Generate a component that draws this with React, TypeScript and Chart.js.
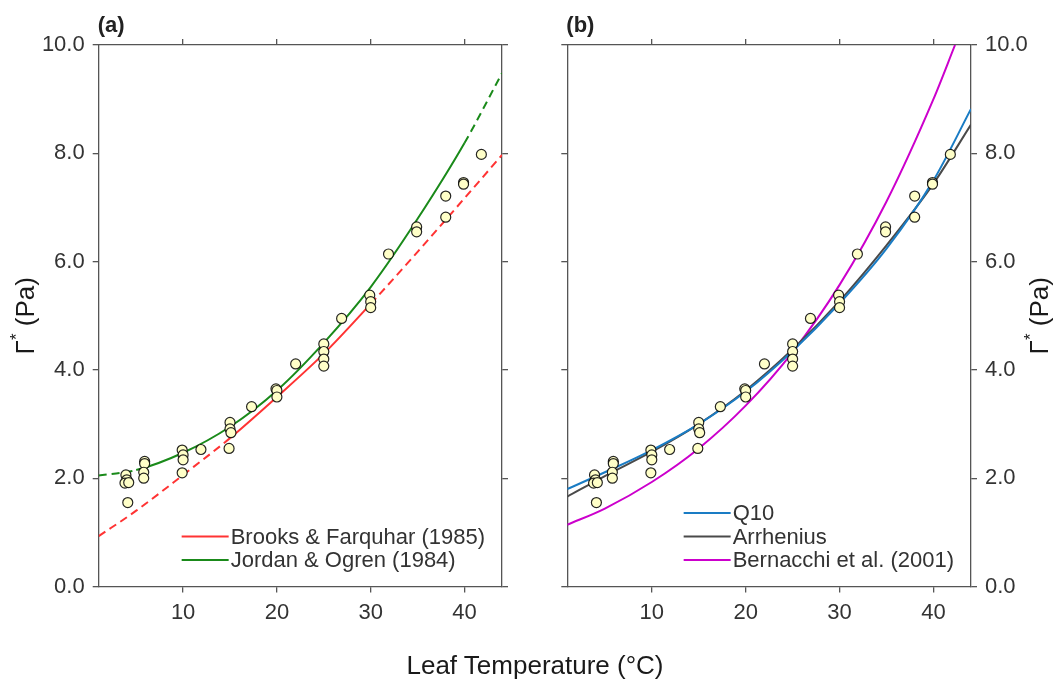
import React, { useEffect, useRef } from 'react';
import { Chart, registerables } from 'chart.js';

Chart.register(...registerables);

const FONT = "'Liberation Sans', Arial, Helvetica, sans-serif";
const AXIS = '#555555';

// ---- Observations (leaf temperature °C, Γ* Pa) ----
const obsTemp = [3.9, 4.0, 3.8, 4.2, 4.1, 5.9, 5.9, 5.8, 5.8, 9.9, 10.0, 10.0, 9.9, 11.9, 15.0, 15.0, 15.1, 14.9, 17.3, 19.9, 20.0, 20.0, 22.0, 25.0, 25.0, 25.0, 25.0, 26.9, 29.9, 30.0, 30.0, 31.9, 34.9, 34.9, 38.0, 38.0, 39.9, 39.9, 41.8];
const obsGamma = [2.06, 1.97, 1.91, 1.92, 1.55, 2.31, 2.27, 2.11, 2.00, 2.52, 2.43, 2.34, 2.10, 2.53, 3.03, 2.91, 2.84, 2.55, 3.32, 3.65, 3.62, 3.50, 4.11, 4.48, 4.34, 4.20, 4.07, 4.95, 5.38, 5.26, 5.15, 6.14, 6.64, 6.55, 7.21, 6.82, 7.46, 7.43, 7.98];

// ---- Model curves ----
const curveTemp = [1, 5, 10, 15, 20, 25, 30, 35, 40, 44];
const brooksFarquhar = [0.93, 1.40, 2.06, 2.74, 3.50, 4.30, 5.22, 6.18, 7.17, 7.97];
const jordanOgren = [2.05, 2.15, 2.47, 2.95, 3.62, 4.50, 5.53, 6.79, 8.19, 9.48];
const q10Fit = [1.80, 2.11, 2.52, 3.00, 3.60, 4.35, 5.23, 6.24, 7.50, 8.82];
const arrheniusFit = [1.66, 2.04, 2.49, 3.00, 3.62, 4.38, 5.27, 6.30, 7.44, 8.53];
const bernacchiTemp = [1, 5, 10, 15, 20, 25, 30, 35, 40, 42.3];
const bernacchiFit = [1.14, 1.44, 1.93, 2.55, 3.34, 4.33, 5.57, 7.11, 9.00, 10.0];

const brooksSolidRange = [15, 30];
const jordanSolidRange = [5, 40];

const xMin = 1;
const xMax = 44;
const xTicks = [10, 20, 30, 40];
const yTicks = [0, 2, 4, 6, 8, 10];

const xTitle = 'Leaf Temperature (°C)';

type Curve = { label: string; temps: number[]; values: number[]; color: string; solid?: number[] };

const panelA: Curve[] = [
  { label: 'Brooks & Farquhar (1985)', temps: curveTemp, values: brooksFarquhar, color: '#ff3333', solid: brooksSolidRange },
  { label: 'Jordan & Ogren (1984)', temps: curveTemp, values: jordanOgren, color: '#1a8a1a', solid: jordanSolidRange },
];
const panelB: Curve[] = [
  { label: 'Q10', temps: curveTemp, values: q10Fit, color: '#1a7cc4' },
  { label: 'Arrhenius', temps: curveTemp, values: arrheniusFit, color: '#4a4a4a' },
  { label: 'Bernacchi et al. (2001)', temps: bernacchiTemp, values: bernacchiFit, color: '#cc00cc' },
];

function xAxis(position: 'top' | 'bottom', showLabels: boolean, size: number) {
  return {
    type: 'linear',
    position,
    min: xMin,
    max: xMax,
    afterBuildTicks: (s: any) => {
      s.ticks = xTicks.map((v) => ({ value: v }));
    },
    afterFit: (s: any) => {
      s.height = size;
    },
    ticks: { display: showLabels, font: { family: FONT, size: 22 }, color: '#333', padding: 7, maxRotation: 0, autoSkip: false },
    grid: { drawOnChartArea: false, drawTicks: true, tickLength: 6, color: AXIS, lineWidth: 1.3 },
    border: { display: true, color: AXIS, width: 1.3 },
  };
}

function yAxis(position: 'left' | 'right', showLabels: boolean, size: number) {
  return {
    type: 'linear',
    position,
    min: 0,
    max: 10,
    afterBuildTicks: (s: any) => {
      s.ticks = yTicks.map((v) => ({ value: v }));
    },
    afterFit: (s: any) => {
      s.width = size;
    },
    ticks: {
      display: showLabels,
      font: { family: FONT, size: 22 },
      color: '#333',
      padding: 8,
      callback: (v: any) => Number(v).toFixed(1),
    },
    grid: { drawOnChartArea: false, drawTicks: true, tickLength: 6, color: AXIS, lineWidth: 1.3 },
    border: { display: true, color: AXIS, width: 1.3 },
  };
}

function makeDecor(panelLabel: string, yTitleX: number) {
  return {
    id: 'decor',
    afterDraw(chart: any) {
      const { ctx, chartArea: ca } = chart;
      ctx.save();
      // panel label
      ctx.font = `bold 22px ${FONT}`;
      ctx.fillStyle = '#222';
      ctx.textAlign = 'left';
      ctx.textBaseline = 'alphabetic';
      ctx.fillText(panelLabel, ca.left - 1, 32);

      // legend, lower right inside the plot
      const items = chart.data.datasets.filter((d: any) => d.showLine !== false);
      ctx.font = `22px ${FONT}`;
      const maxW = Math.max(...items.map((d: any) => ctx.measureText(d.label).width));
      const textLeft = ca.right - 17 - maxW;
      const rowH = 23.5;
      const lastY = ca.bottom - 26.5;
      items.forEach((d: any, i: number) => {
        const y = lastY - (items.length - 1 - i) * rowH;
        ctx.strokeStyle = d.borderColor;
        ctx.lineWidth = 2;
        ctx.setLineDash([]);
        ctx.beginPath();
        ctx.moveTo(textLeft - 49, y);
        ctx.lineTo(textLeft - 2, y);
        ctx.stroke();
        ctx.fillStyle = '#333';
        ctx.textBaseline = 'middle';
        ctx.fillText(d.label, textLeft, y + 1);
      });

      // y title Γ* (Pa), rotated
      ctx.translate(yTitleX, (ca.top + ca.bottom) / 2);
      ctx.rotate(-Math.PI / 2);
      const big = `26px ${FONT}`;
      const small = `17px ${FONT}`;
      ctx.font = big;
      const wG = ctx.measureText('Γ').width;
      const wRest = ctx.measureText(' (Pa)').width;
      ctx.font = small;
      const wS = ctx.measureText('*').width;
      let x = -(wG + wS + wRest) / 2;
      ctx.fillStyle = '#1a1a1a';
      ctx.textAlign = 'left';
      ctx.textBaseline = 'alphabetic';
      ctx.font = big;
      ctx.fillText('Γ', x, 9);
      x += wG;
      ctx.font = small;
      ctx.fillText('*', x, -3);
      x += wS;
      ctx.font = big;
      ctx.fillText(' (Pa)', x, 9);
      ctx.restore();
    },
  };
}

function buildConfig(curves: Curve[], panel: 'a' | 'b'): any {
  const obs = {
    label: 'Observations',
    data: obsTemp.map((t, i) => ({ x: t, y: obsGamma[i] })),
    showLine: false,
    pointRadius: 5,
    pointBackgroundColor: '#ffffc8',
    pointBorderColor: 'rgba(0,0,0,0.85)',
    pointBorderWidth: 1.2,
    xAxisID: 'x',
    yAxisID: 'y',
  };
  const lines = curves.map((c) => ({
    label: c.label,
    data: c.temps.map((t, i) => ({ x: t, y: c.values[i] })),
    borderColor: c.color,
    backgroundColor: c.color,
    borderWidth: 2,
    pointRadius: 0,
    showLine: true,
    fill: false,
    cubicInterpolationMode: 'monotone',
    xAxisID: 'x',
    yAxisID: 'y',
    segment: c.solid
      ? {
          borderDash: (ctx: any) =>
            ctx.p0.parsed.x < c.solid![0] - 1e-6 || ctx.p1.parsed.x > c.solid![1] + 1e-6 ? [8, 5] : [],
        }
      : undefined,
  }));
  const isA = panel === 'a';
  return {
    type: 'line',
    data: { datasets: [obs, ...lines] },
    options: {
      responsive: false,
      animation: false,
      events: [],
      layout: { padding: 0 },
      plugins: { legend: { display: false }, tooltip: { enabled: false }, title: { display: false } },
      scales: {
        x: xAxis('bottom', true, 94.5),
        xTop: xAxis('top', false, 45),
        y: yAxis('left', isA, isA ? 98.7 : 38.3),
        yRight: yAxis('right', !isA, isA ? 27 : 87),
      },
    },
    plugins: [makeDecor(isA ? '(a)' : '(b)', isA ? 25 : 510)],
  };
}

export default function App() {
  const refA = useRef<HTMLCanvasElement>(null);
  const refB = useRef<HTMLCanvasElement>(null);

  useEffect(() => {
    const a = new Chart(refA.current as HTMLCanvasElement, buildConfig(panelA, 'a'));
    const b = new Chart(refB.current as HTMLCanvasElement, buildConfig(panelB, 'b'));
    return () => {
      a.destroy();
      b.destroy();
    };
  }, []);

  return (
    <div style={{ position: 'fixed', left: 0, top: 0, width: 1058, height: 681, background: '#fff', overflow: 'hidden' }}>
      <div style={{ position: 'absolute', left: 0, top: 0, width: 529, height: 681 }}>
        <canvas ref={refA} width={529} height={681} style={{ display: 'block' }} />
      </div>
      <div style={{ position: 'absolute', left: 529, top: 0, width: 529, height: 681 }}>
        <canvas ref={refB} width={529} height={681} style={{ display: 'block' }} />
      </div>
      <div
        style={{
          position: 'absolute',
          left: 6,
          top: 649,
          width: 1058,
          textAlign: 'center',
          fontFamily: FONT,
          fontSize: 26,
          lineHeight: '32px',
          color: '#1a1a1a',
        }}
      >
        {xTitle}
      </div>
    </div>
  );
}
